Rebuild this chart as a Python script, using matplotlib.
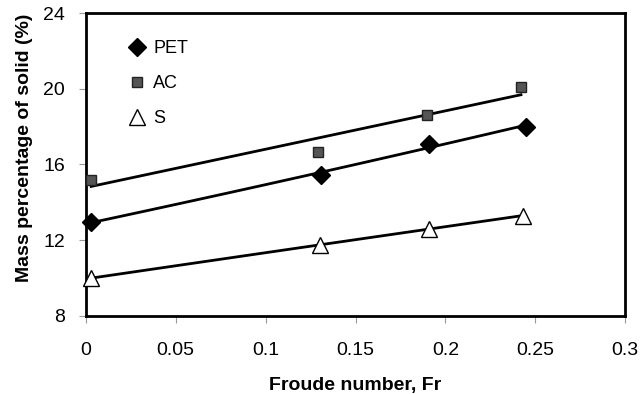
import matplotlib.pyplot as plt
import numpy as np

plt.rcParams['font.family'] = ['Liberation Sans', 'DejaVu Sans']

# datos
fr_pet = [0.003, 0.131, 0.191, 0.245]
pet = [12.95, 15.45, 17.1, 18.0]
fr_ac = [0.003, 0.129, 0.190, 0.242]
ac = [15.2, 16.65, 18.6, 20.1]
fr_s = [0.003, 0.130, 0.191, 0.243]
s = [10.0, 11.75, 12.6, 13.3]

xticks = [0, 0.05, 0.1, 0.15, 0.2, 0.25, 0.3]
xtick_labels = ['0', '0.05', '0.1', '0.15', '0.2', '0.25', '0.3']
yticks = [8, 12, 16, 20, 24]

fig = plt.figure(figsize=(6.4, 3.94), dpi=100)
ax = fig.add_axes([0.134, 0.198, 0.843, 0.769])

# lineas de tendencia
for xs, ys, deg in [(fr_ac, ac, 1), (fr_pet, pet, 2), (fr_s, s, 2)]:
    c = np.polyfit(xs, ys, deg)
    xf = np.linspace(xs[0], xs[-1], 100)
    ax.plot(xf, np.polyval(c, xf), color='black', lw=2, zorder=2)

ax.plot(fr_pet, pet, 'D', color='black', ms=9, ls='none', label='PET', zorder=3, clip_on=False)
ax.plot(fr_ac, ac, 's', mfc='#555555', mec='#222222', ms=7.5, ls='none', label='AC', zorder=3, clip_on=False)
ax.plot(fr_s, s, '^', mfc='white', mec='black', ms=11, mew=1, ls='none', label='S', zorder=3, clip_on=False)

ax.set_xlim(0, 0.3)
ax.set_ylim(8, 24)
ax.set_xticks(xticks)
ax.set_xticklabels(xtick_labels)
ax.set_yticks(yticks)
ax.tick_params(axis='x', labelsize=14, length=5, width=0.8, color='#999999', direction='out', pad=14)
ax.tick_params(axis='y', labelsize=14, length=5, width=0.8, color='#999999', direction='out', pad=10)
for sp in ax.spines.values():
    sp.set_linewidth(2)

ax.set_xlabel('Froude number, Fr', fontsize=14, fontweight='bold')
ax.set_ylabel('Mass percentage of solid (%)', fontsize=14, fontweight='bold')
ax.xaxis.set_label_coords(0.5, -0.20)
ax.yaxis.set_label_coords(-0.098, 0.555)

ax.legend(loc='upper left', frameon=False, fontsize=13, labelspacing=1.0,
          handletextpad=0.3, handlelength=1.2, bbox_to_anchor=(0.045, 0.965))

plt.savefig('out.png', dpi=100)
